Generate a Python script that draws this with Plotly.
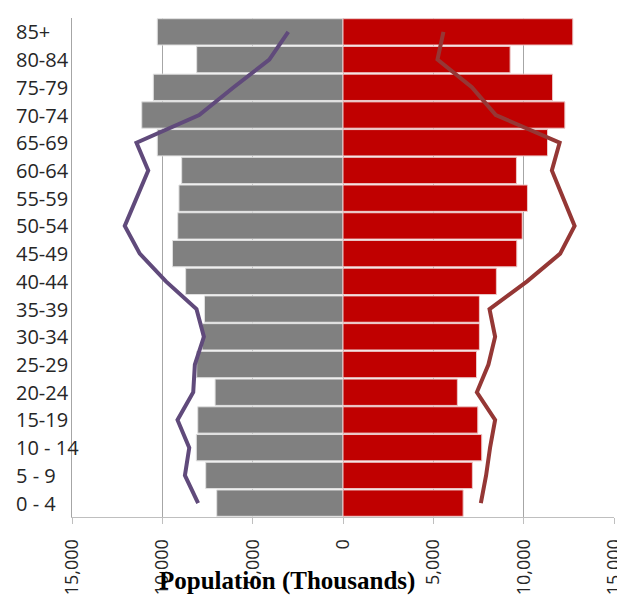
import plotly.graph_objects as go

age_groups = ["0 - 4", "5 - 9", "10 - 14", "15-19", "20-24", "25-29", "30-34", "35-39",
              "40-44", "45-49", "50-54", "55-59", "60-64", "65-69", "70-74", "75-79",
              "80-84", "85+"]
male_bars = [6990, 7600, 8120, 8040, 7080, 8100, 7800, 7670, 8710, 9440, 9150, 9080,
             8930, 10280, 11140, 10500, 8100, 10280]
female_bars = [6650, 7160, 7680, 7460, 6330, 7390, 7550, 7550, 8490, 9620, 9920, 10210,
               9600, 11320, 12280, 11600, 9250, 12720]
male_line = [8020, 8750, 8510, 9160, 8290, 8200, 7700, 8110, 9800, 11250, 12080, 11400,
             10780, 11430, 7960, 6050, 4080, 3030]
female_line = [7630, 7920, 8140, 8420, 7410, 8050, 8420, 8110, 10190, 12020, 12820, 12200,
               11560, 11990, 8460, 7130, 5230, 5560]
tick_vals = [-15000, -10000, -5000, 0, 5000, 10000, 15000]
tick_text = ["15,000", "10,000", "5,000", "0", "5,000", "10,000", "15,000"]

fig = go.Figure()
fig.add_trace(go.Bar(y=age_groups, x=[-v for v in male_bars], orientation="h",
                     marker=dict(color="#808080", line=dict(color="rgba(225,225,225,1)", width=1)),
                     name="Male"))
fig.add_trace(go.Bar(y=age_groups, x=female_bars, orientation="h",
                     marker=dict(color="#C00000", line=dict(color="rgba(235,200,200,1)", width=1)),
                     name="Female"))
fig.add_trace(go.Scatter(y=age_groups, x=[-v for v in male_line], mode="lines",
                         line=dict(color="#604A7B", width=4), name="Male line"))
fig.add_trace(go.Scatter(y=age_groups, x=female_line, mode="lines",
                         line=dict(color="#953735", width=4), name="Female line"))

for g in age_groups:
    fig.add_annotation(text=g, xref="paper", yref="y", x=-0.107, y=g, xanchor="left",
                       yanchor="middle", showarrow=False,
                       font=dict(family="Open Sans", size=20, color="#262626"))

fig.add_annotation(text="<b>Population (Thousands)</b>", xref="paper", yref="paper",
                   x=0.396, y=-0.128, xanchor="center", yanchor="middle", showarrow=False,
                   font=dict(family="Liberation Serif", size=25, color="#000000"))

fig.update_layout(
    width=617, height=587,
    margin=dict(l=64, r=11, t=10, b=78),
    barmode="overlay", bargap=0.05,
    showlegend=False,
    plot_bgcolor="white", paper_bgcolor="white",
    font=dict(family="Open Sans", size=20, color="#262626"),
)
fig.update_xaxes(range=[-15000, 15000], tickvals=tick_vals, ticktext=tick_text,
                 tickangle=-90, showgrid=True, gridcolor="#A6A6A6", gridwidth=1,
                 zeroline=False, showline=True, linecolor="#BFBFBF", linewidth=1,
                 ticks="outside", ticklen=6, tickcolor="#BFBFBF", ticklabelstandoff=8,
                 automargin=False,
                 tickfont=dict(family="Open Sans", size=18, color="#262626"))
fig.update_yaxes(type="category", categoryorder="array", categoryarray=age_groups,
                 range=[-0.5, len(age_groups) - 0.5], showticklabels=False,
                 showgrid=False, zeroline=False, showline=True, linecolor="#A6A6A6",
                 linewidth=1, ticks="", automargin=False)

fig.write_html("out.html")
